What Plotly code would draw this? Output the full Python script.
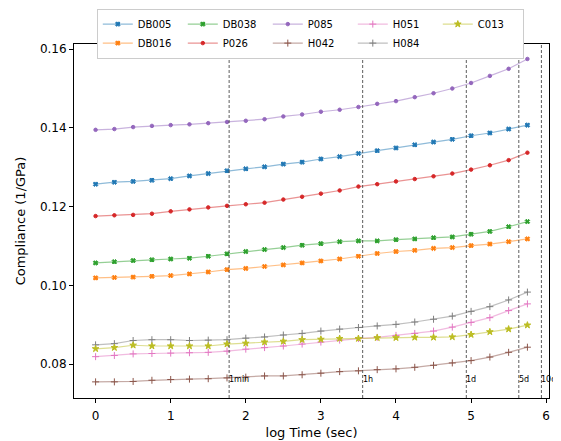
import numpy as np
import plotly.graph_objects as go

log_time = [i * 0.25 for i in range(24)]

DB005 = [0.1257, 0.1262, 0.1264, 0.1267, 0.1271, 0.1278, 0.1284, 0.1291, 0.1296, 0.1301, 0.1308, 0.1313,
         0.1321, 0.1327, 0.1335, 0.1342, 0.1349, 0.1357, 0.1364, 0.1371, 0.1380, 0.1387, 0.1397, 0.1407]
DB016 = [0.1019, 0.1020, 0.1021, 0.1023, 0.1025, 0.1029, 0.1034, 0.1040, 0.1043, 0.1048, 0.1052, 0.1057,
         0.1062, 0.1067, 0.1074, 0.1081, 0.1086, 0.1089, 0.1094, 0.1096, 0.1101, 0.1105, 0.1111, 0.1118]
DB038 = [0.1057, 0.1060, 0.1063, 0.1065, 0.1067, 0.1069, 0.1074, 0.1080, 0.1086, 0.1091, 0.1096, 0.1102,
         0.1106, 0.1111, 0.1113, 0.1113, 0.1116, 0.1118, 0.1121, 0.1123, 0.1130, 0.1137, 0.1149, 0.1162]
P026 = [0.1176, 0.1178, 0.1179, 0.1182, 0.1188, 0.1193, 0.1198, 0.1202, 0.1206, 0.1210, 0.1218, 0.1225,
        0.1233, 0.1241, 0.1251, 0.1257, 0.1264, 0.1270, 0.1277, 0.1284, 0.1294, 0.1305, 0.1318, 0.1337]
P085 = [0.1395, 0.1397, 0.1402, 0.1405, 0.1407, 0.1409, 0.1412, 0.1415, 0.1418, 0.1422, 0.1429, 0.1434,
        0.1441, 0.1446, 0.1453, 0.1461, 0.1468, 0.1478, 0.1488, 0.1500, 0.1514, 0.1532, 0.1550, 0.1575]
H042 = [0.0755, 0.0755, 0.0756, 0.0759, 0.0761, 0.0762, 0.0763, 0.0765, 0.0767, 0.0770, 0.0770, 0.0773,
        0.0777, 0.0781, 0.0783, 0.0786, 0.0788, 0.0792, 0.0797, 0.0803, 0.0809, 0.0818, 0.0830, 0.0843]
H051 = [0.0819, 0.0822, 0.0826, 0.0827, 0.0828, 0.0829, 0.0830, 0.0833, 0.0838, 0.0842, 0.0846, 0.0851,
        0.0856, 0.0861, 0.0865, 0.0868, 0.0873, 0.0878, 0.0884, 0.0894, 0.0906, 0.0918, 0.0936, 0.0953]
H084 = [0.0849, 0.0852, 0.0860, 0.0862, 0.0862, 0.0860, 0.0861, 0.0862, 0.0866, 0.0869, 0.0874, 0.0878,
        0.0884, 0.0889, 0.0893, 0.0897, 0.0901, 0.0907, 0.0914, 0.0922, 0.0934, 0.0946, 0.0963, 0.0983]
C013 = [0.0839, 0.0842, 0.0848, 0.0846, 0.0846, 0.0846, 0.0846, 0.0851, 0.0853, 0.0856, 0.0858, 0.0862,
        0.0863, 0.0865, 0.0865, 0.0867, 0.0867, 0.0868, 0.0868, 0.0869, 0.0875, 0.0882, 0.0889, 0.0899]

series_names = ["DB005", "DB016", "DB038", "P026", "P085", "H042", "H051", "H084", "C013"]
series_values = [DB005, DB016, DB038, P026, P085, H042, H051, H084, C013]
colors = ["#1f77b4", "#ff7f0e", "#2ca02c", "#d62728", "#9467bd", "#8c564b", "#e377c2", "#7f7f7f", "#bcbd22"]
symbols = ["x", "x", "x", "circle", "circle", "cross-thin", "cross-thin", "cross-thin", "star"]
sizes = [4, 4, 4, 3.5, 3.5, 5, 5, 5, 5]
legend_ranks = [1, 6, 2, 7, 3, 8, 4, 9, 5]

marker_seconds = [60, 3600, 86400, 432000, 864000]
marker_labels = ["1min", "1h", "1d", "5d", "10d"]

def rgba(hexc, a):
    h = hexc.lstrip("#")
    return "rgba(%d,%d,%d,%s)" % (int(h[0:2], 16), int(h[2:4], 16), int(h[4:6], 16), a)

fig = go.Figure()
for name, vals, c, sym, sz, rk in zip(series_names, series_values, colors, symbols, sizes, legend_ranks):
    fig.add_trace(go.Scatter(
        x=log_time, y=vals, name=name, mode="lines+markers", legendrank=rk,
        line=dict(color=rgba(c, 0.5), width=1.2),
        marker=dict(color=c, symbol=sym, size=sz, line=dict(color=c, width=1)),
    ))

for s, lab in zip(marker_seconds, marker_labels):
    xv = float(np.log10(s))
    fig.add_vline(x=xv, line=dict(color="#333333", width=0.8, dash="3px,2px"))
    fig.add_annotation(x=xv, y=0.0762, text=lab, showarrow=False, xanchor="left",
                       yanchor="middle", xshift=-2, font=dict(size=8, color="black"))

axis_common = dict(showline=True, linecolor="black", linewidth=1, mirror=True, ticks="outside",
                   ticklen=4, tickcolor="black", showgrid=False, zeroline=False, automargin=False,
                   tickfont=dict(size=12, color="black"))

fig.update_layout(
    width=553, height=433,
    margin=dict(l=66, r=12, t=36, b=43, autoexpand=False),
    paper_bgcolor="white", plot_bgcolor="white",
    font=dict(family="DejaVu Sans", color="black"),
    showlegend=True,
    legend=dict(orientation="h", x=0.048, y=1.10, xanchor="left", yanchor="top",
                entrywidth=40, entrywidthmode="pixels",
                font=dict(size=10), bordercolor="#cccccc", borderwidth=1,
                bgcolor="white", tracegroupgap=0, itemwidth=30),
    xaxis=dict(range=[-0.2875, 6.0375], tickmode="array", tickvals=[0, 1, 2, 3, 4, 5, 6],
               ticklabelstandoff=3,
               title=dict(text="log Time (sec)", font=dict(size=13), standoff=5), **axis_common),
    yaxis=dict(range=[0.0714, 0.1613], tickmode="array", tickvals=[0.08, 0.10, 0.12, 0.14, 0.16],
               tickformat=".2f",
               title=dict(text="Compliance (1/GPa)", font=dict(size=13), standoff=11), **axis_common),
)

fig.write_html("out.html")
